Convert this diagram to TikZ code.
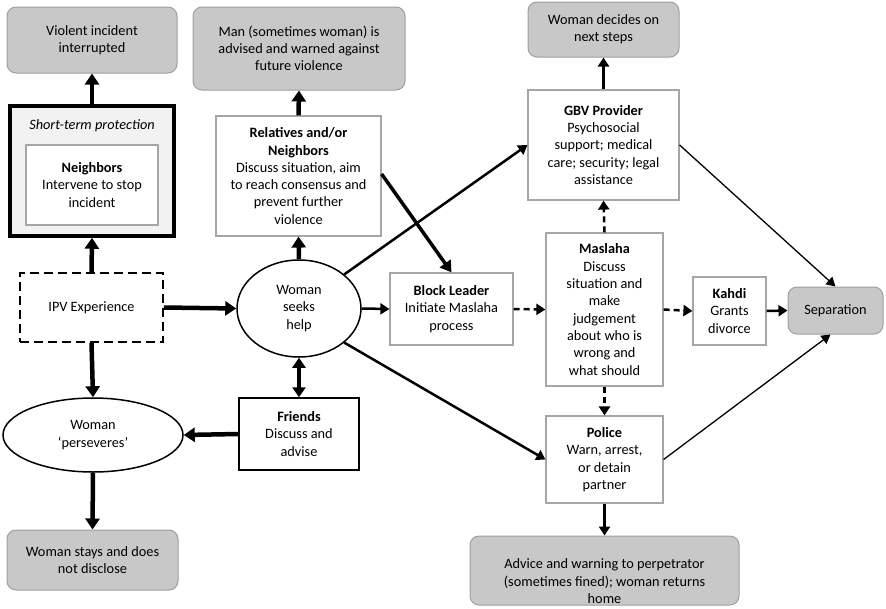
\documentclass[tikz,border=0pt]{standalone}
\usepackage{fontspec}
\setmainfont{Carlito}
\usetikzlibrary{arrows.meta,shapes.geometric}
\definecolor{outfill}{HTML}{C8C8C8}
\definecolor{outline}{HTML}{A0A0A0}
\definecolor{boxline}{HTML}{A6A6A6}
\definecolor{stpfill}{HTML}{F2F2F2}
\tikzset{
  base/.style={font=\fontsize{14.3}{17.3}\selectfont, align=center, inner sep=0pt},
  outcome/.style={base, draw=outline, fill=outfill, rounded corners=9pt, line width=1pt},
  wbox/.style={base, draw=boxline, fill=white, line width=1.2pt},
  bbox/.style={base, draw=black, fill=white, line width=1.5pt},
  oval/.style={base, ellipse, draw=black, fill=white, line width=1.5pt},
  heavy/.style={line width=4.5pt, -{Triangle[length=11pt,width=14pt]}},
  medium/.style={line width=2.5pt, -{Triangle[length=9pt,width=11pt]}},
  light/.style={line width=1.3pt, -{Triangle[length=9pt,width=10pt]}},
  dashy/.style={line width=2.5pt, dash pattern=on 6pt off 4pt, -{Triangle[length=9pt,width=11pt]}},
}
\begin{document}
\begin{tikzpicture}[x=1pt,y=-1pt]
\useasboundingbox (0,0) rectangle (886,608);
% outcome boxes
\node[outcome, minimum width=170pt, minimum height=66pt] (viol) at (92,40) {Violent incident\\interrupted};
\node[outcome, minimum width=212pt, minimum height=83pt] (man) at (299,48.5) {Man (sometimes woman) is\\advised and warned against\\future violence};
\node[outcome, minimum width=151pt, minimum height=55pt] (decide) at (603.5,29.5) {Woman decides on\\next steps};
\node[outcome, minimum width=95pt, minimum height=47pt] (sep) at (835.5,310.5) {Separation};
\node[outcome, minimum width=269pt, minimum height=69pt, text depth=0pt] (advice) at (604.5,570.5) {\raisebox{-3pt}{\parbox{260pt}{\centering Advice and warning to perpetrator\\(sometimes fined); woman returns\\home}}};
\node[outcome, minimum width=171pt, minimum height=60pt] (stays) at (92.5,560) {Woman stays and does\\not disclose};
% short-term protection
\node[base, draw=black, fill=stpfill, line width=3.5pt, minimum width=164pt, minimum height=130pt] (stp) at (92,171) {};
\node[base, font=\fontsize{14.3}{17.3}\selectfont\itshape] (stplab) at (92,126) {Short-term protection};
\node[wbox, minimum width=132pt, minimum height=80pt] (nb) at (92,185) {\textbf{Neighbors}\\Intervene to stop\\incident};
% process boxes
\node[wbox, minimum width=165pt, minimum height=120pt] (rel) at (298.5,176) {\textbf{Relatives and/or}\\\textbf{Neighbors}\\Discuss situation, aim\\to reach consensus and\\prevent further\\violence};
\node[wbox, minimum width=151pt, minimum height=110pt] (gbv) at (603.5,145) {\textbf{GBV Provider}\\Psychosocial\\support; medical\\care; security; legal\\assistance};
\node[base, draw=black, dash pattern=on 9pt off 5pt, line width=1.5pt, minimum width=143pt, minimum height=69pt] (ipv) at (91.5,307.5) {IPV Experience};
\node[oval, minimum width=124pt, minimum height=97pt] (seek) at (299,308.5) {Woman\\seeks\\help};
\node[wbox, minimum width=123pt, minimum height=72pt] (block) at (451.5,309) {\textbf{Block Leader}\\Initiate Maslaha\\process};
\node[wbox, minimum width=117pt, minimum height=153pt] (masl) at (604.5,309.5) {\textbf{Maslaha}\\Discuss\\situation and\\make\\judgement\\about who is\\wrong and\\what should};
\node[wbox, minimum width=73pt, minimum height=68pt] (kahdi) at (729.5,311) {\textbf{Kahdi}\\Grants\\divorce};
\node[oval, minimum width=180pt, minimum height=74pt] (pers) at (93,435) {Woman\\‘perseveres’};
\node[bbox, minimum width=120pt, minimum height=72pt] (friends) at (299,434) {\textbf{Friends}\\Discuss and\\advise};
\node[wbox, minimum width=117pt, minimum height=87pt] (police) at (604.5,459.5) {\textbf{Police}\\Warn, arrest,\\or detain\\partner};
% connectors
\draw[heavy] (stp.north) -- (viol.south);
\draw[heavy] (ipv.north) -- (stp.south);
\draw[heavy] (ipv.east) -- (seek.west);
\draw[heavy] (ipv.south) -- (pers.north);
\draw[heavy] (pers.south) -- (stays.north);
\draw[heavy] (friends.west) -- (pers.east);
\draw[line width=4.5pt, {Triangle[length=10pt,width=13pt]}-{Triangle[length=10pt,width=13pt]}] (seek.south) -- (friends.north);
\draw[heavy] (seek.north) -- (rel.south);
\draw[heavy] (rel.north) -- (man.south);
\draw[line width=3.5pt, -{Triangle[length=11pt,width=13pt]}] ([yshift=2pt]rel.east) -- (block.north);
\draw[medium] (seek.37) -- (gbv.west);
\draw[medium] (seek.east) -- (block.west);
\draw[medium] (seek.-37) -- (police.west);
\draw[dashy] (block.east) -- (masl.west);
\draw[dashy] (masl.north) -- (gbv.south);
\draw[dashy] (masl.south) -- (police.north);
\draw[dashy] (masl.east) -- (kahdi.west);
\draw[medium] (kahdi.east) -- (sep.west);
\draw[medium] (gbv.north) -- (decide.south);
\draw[medium] (police.south) -- (advice.north);
\draw[light] (gbv.east) -- (sep.north);
\draw[light] (police.east) -- ([xshift=-5pt]sep.south);
\end{tikzpicture}
\end{document}
